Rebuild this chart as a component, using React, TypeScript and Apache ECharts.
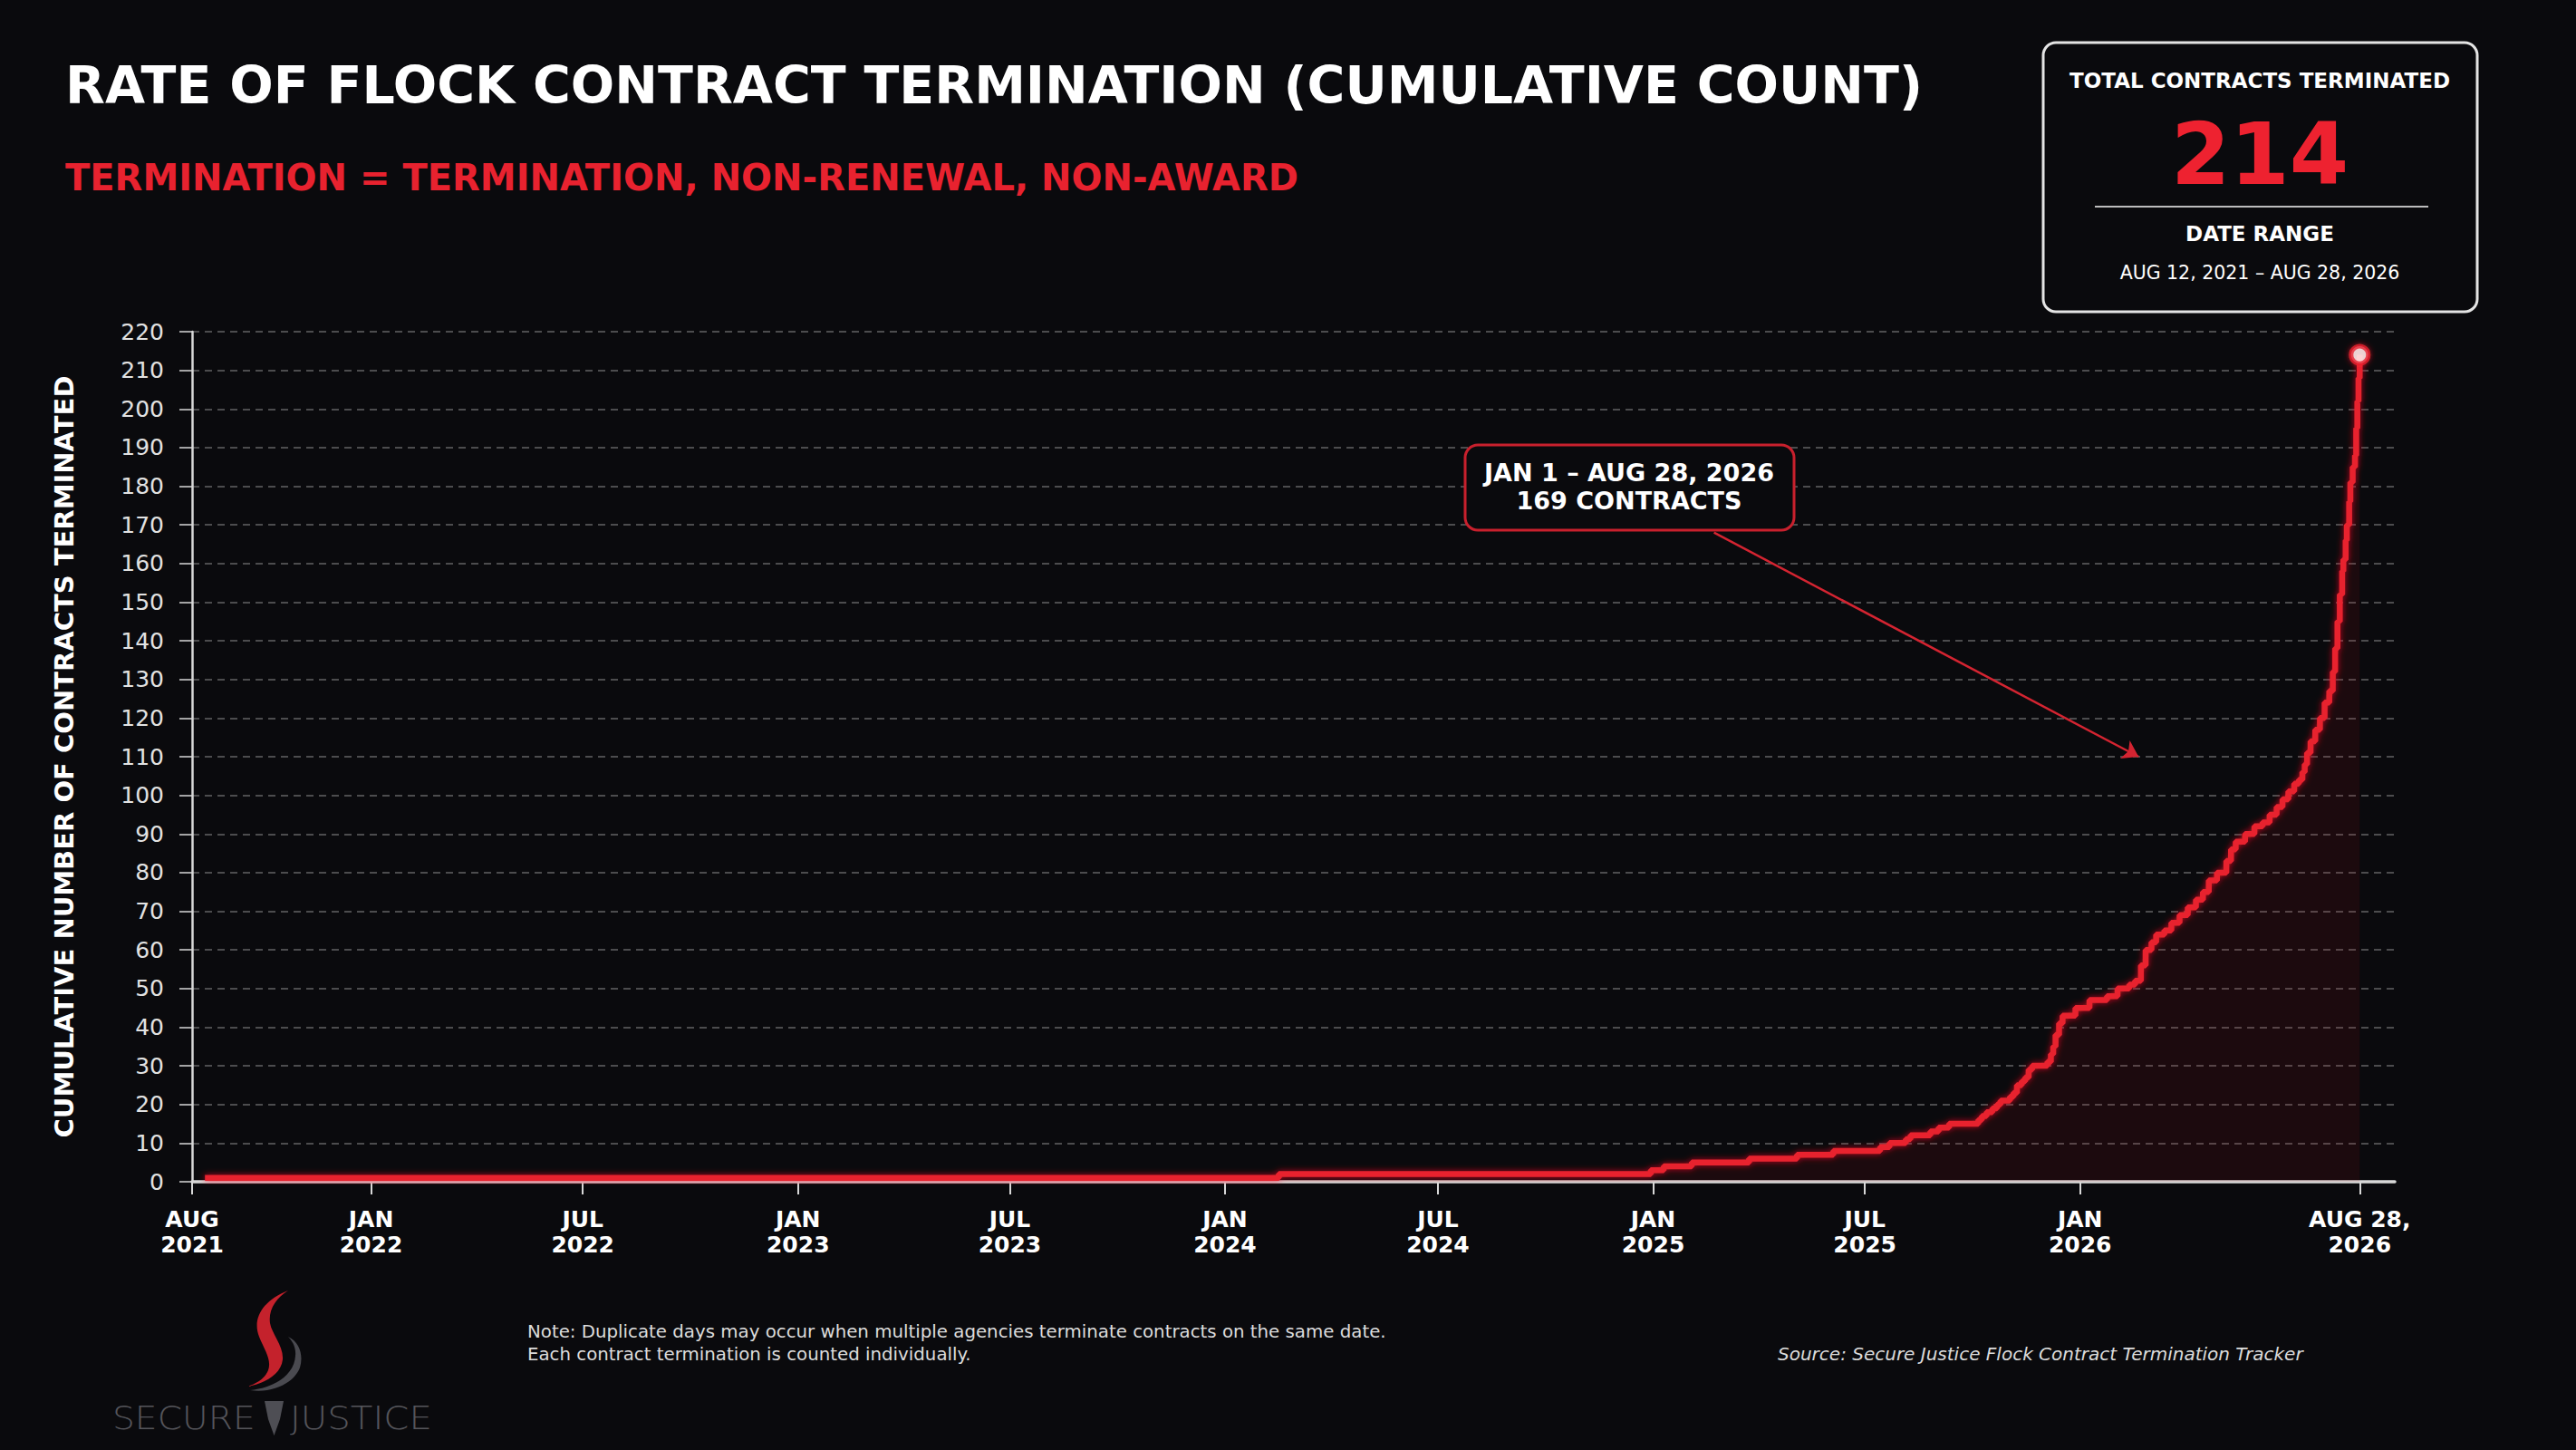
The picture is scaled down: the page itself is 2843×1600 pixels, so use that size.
import React, { useEffect, useRef } from "react";
import * as echarts from "echarts";

// ---- data ----
const dates = [
  "2021-08-12", "2024-02-16", "2024-12-30", "2025-01-10", "2025-02-03", "2025-03-24",
  "2025-05-04", "2025-06-04", "2025-07-14", "2025-07-22", "2025-08-05", "2025-08-09",
  "2025-08-26", "2025-09-02", "2025-09-11", "2025-10-06", "2025-10-09", "2025-10-13",
  "2025-10-18", "2025-10-22", "2025-10-25", "2025-11-02", "2025-11-05", "2025-11-08",
  "2025-11-12", "2025-11-15", "2025-11-18", "2025-11-21", "2025-12-04", "2025-12-07",
  "2025-12-09", "2025-12-11", "2025-12-14", "2025-12-17", "2025-12-28", "2026-01-09",
  "2026-01-24", "2026-02-02", "2026-02-12", "2026-02-17", "2026-02-22", "2026-02-26",
  "2026-03-03", "2026-03-07", "2026-03-14", "2026-03-20", "2026-03-27", "2026-04-03",
  "2026-04-10", "2026-04-16", "2026-04-21", "2026-04-28", "2026-05-06", "2026-05-10",
  "2026-05-14", "2026-05-22", "2026-05-30", "2026-06-06", "2026-06-12", "2026-06-18",
  "2026-06-23", "2026-06-28", "2026-07-03", "2026-07-07", "2026-07-10", "2026-07-12",
  "2026-07-14", "2026-07-17", "2026-07-21", "2026-07-25", "2026-07-29", "2026-08-02",
  "2026-08-05", "2026-08-07", "2026-08-09", "2026-08-11", "2026-08-13", "2026-08-14",
  "2026-08-16", "2026-08-17", "2026-08-19", "2026-08-20", "2026-08-22", "2026-08-24",
  "2026-08-25", "2026-08-26", "2026-08-27", "2026-08-28",
];
const counts = [
  1, 2, 3, 4, 5, 6,
  7, 8, 9, 10, 11, 12,
  13, 14, 15, 16, 17, 18,
  19, 20, 21, 22, 23, 25,
  26, 27, 29, 30, 31, 33,
  35, 38, 41, 43, 45, 47,
  48, 50, 51, 52, 56, 60,
  62, 64, 65, 67, 69, 71,
  73, 75, 78, 80, 83, 86,
  88, 90, 92, 93, 95, 97,
  99, 101, 103, 104, 106, 108,
  111, 114, 117, 120, 124, 127,
  132, 138, 145, 152, 158, 161,
  166, 170, 176, 181, 185, 188,
  195, 202, 208, 214,
];

const xTickDates = [
  "2021-08-01", "2022-01-01", "2022-07-01", "2023-01-01", "2023-07-01", "2024-01-01",
  "2024-07-01", "2025-01-01", "2025-07-01", "2026-01-01", "2026-08-28",
];
const xTickLabels = [
  "AUG\n2021", "JAN\n2022", "JUL\n2022", "JAN\n2023", "JUL\n2023", "JAN\n2024",
  "JUL\n2024", "JAN\n2025", "JUL\n2025", "JAN\n2026", "AUG 28,\n2026",
];
const xMinDate = "2021-08-01";
const xMaxDate = "2026-09-27";
const yMax = 220;
const yStep = 10;

const annotationLines = ["JAN 1 – AUG 28, 2026", "169 CONTRACTS"];
const arrowFrom: [string, number] = ["2025-02-22", 168];
const arrowTo: [string, number] = ["2026-02-20", 110];

const totalLabel = "TOTAL CONTRACTS TERMINATED";
const totalValue = "214";
const rangeLabel = "DATE RANGE";
const rangeValue = "AUG 12, 2021 – AUG 28, 2026";

const FONT = "DejaVu Sans";
const RED = "#e8222f";

const S_PATH =
  "M 318 1424 C 290 1435 278 1455 286 1475 C 292 1490 300 1500 296 1512 C 292 1522 282 1527 273 1530 " +
  "C 290 1527 310 1518 312 1500 C 313 1485 300 1472 298 1460 C 296 1445 305 1432 318 1424 Z";
const SWOOSH_PATH =
  "M 276 1534 C 305 1531 325 1516 326 1496 C 327 1486 322 1479 318 1475 C 331 1481 335 1496 331 1509 " +
  "C 325 1526 300 1538 276 1534 Z";

let registered = false;
function registerShapes() {
  if (registered) return;
  registered = true;
  echarts.graphic.registerShape("logoS", echarts.graphic.extendPath(S_PATH, {}) as any);
  echarts.graphic.registerShape("logoSwoosh", echarts.graphic.extendPath(SWOOSH_PATH, {}) as any);
}

const ts = (d: string) => Date.parse(d);

export default function App() {
  const ref = useRef<HTMLDivElement>(null);

  useEffect(() => {
    document.body.style.margin = "0";
    document.body.style.background = "#0a0a0d";
    registerShapes();
    const chart = echarts.init(ref.current!, undefined, { renderer: "svg" });

    const seriesData = dates.map((d, i) => [ts(d), counts[i]]);
    const last = seriesData[seriesData.length - 1];
    const tickValues = xTickDates.map(ts);
    const labelMap: Record<number, string> = {};
    tickValues.forEach((v, i) => (labelMap[v] = xTickLabels[i]));

    const option: any = {
      animation: false,
      backgroundColor: "#0a0a0d",
      textStyle: { fontFamily: FONT },
      grid: { left: 212, top: 366, width: 2431, height: 938, containLabel: false },
      xAxis: {
        type: "value",
        min: ts(xMinDate),
        max: ts(xMaxDate),
        splitLine: { show: false },
        axisLine: { show: true, lineStyle: { color: "#d8d8d8", width: 3.5 } },
        axisTick: {
          show: true,
          customValues: tickValues,
          length: 14,
          lineStyle: { color: "#d8d8d8", width: 2 },
        },
        axisLabel: {
          customValues: tickValues,
          formatter: (v: number) => labelMap[v] ?? "",
          color: "#ffffff",
          fontFamily: FONT,
          fontWeight: "bold",
          fontSize: 25,
          lineHeight: 28,
          margin: 27,
          align: "center",
        },
      },
      yAxis: {
        type: "value",
        min: 0,
        max: yMax,
        interval: yStep,
        name: "CUMULATIVE NUMBER OF CONTRACTS TERMINATED",
        nameLocation: "middle",
        nameGap: 127,
        nameTextStyle: { color: "#ffffff", fontFamily: FONT, fontWeight: "bold", fontSize: 29 },
        axisLine: { show: true, lineStyle: { color: "#d8d8d8", width: 2.5 } },
        axisTick: { show: true, length: 14, lineStyle: { color: "#d8d8d8", width: 1.5 } },
        axisLabel: { color: "#e2e2e2", fontFamily: FONT, fontSize: 25, margin: 31 },
        splitLine: {
          show: true,
          lineStyle: { color: "rgba(255,255,255,0.36)", width: 1.5, type: [8, 6] },
        },
      },
      series: [
        {
          type: "line",
          step: "end",
          data: seriesData,
          showSymbol: false,
          z: 3,
          lineStyle: {
            color: RED,
            width: 6.5,
            shadowColor: "rgba(255,20,35,0.7)",
            shadowBlur: 7,
          },
          areaStyle: { color: "rgba(190,20,32,0.15)" },
          markLine: {
            silent: true,
            symbol: ["none", "arrow"],
            symbolSize: 17,
            label: { show: false },
            lineStyle: { color: "#d42431", width: 2.5, type: "solid" },
            data: [
              [
                { coord: [ts(arrowFrom[0]), arrowFrom[1]] },
                { coord: [ts(arrowTo[0]), arrowTo[1]] },
              ],
            ],
          },
        },
        {
          type: "scatter",
          data: [last],
          symbolSize: 19,
          z: 5,
          itemStyle: {
            color: "#fff2f2",
            borderColor: "#e8222f",
            borderWidth: 5,
            shadowColor: "rgba(255,30,40,0.7)",
            shadowBlur: 6,
          },
        },
      ],
      graphic: [
        {
          type: "text",
          x: 72,
          y: 94,
          style: {
            text: "RATE OF FLOCK CONTRACT TERMINATION (CUMULATIVE COUNT)",
            fill: "#ffffff",
            font: `bold 57px '${FONT}'`,
            textVerticalAlign: "middle",
          },
        },
        {
          type: "text",
          x: 72,
          y: 196,
          style: {
            text: "TERMINATION = TERMINATION, NON-RENEWAL, NON-AWARD",
            fill: "#e8222f",
            font: `bold 40px '${FONT}'`,
            textVerticalAlign: "middle",
          },
        },
        // stats box
        {
          type: "rect",
          shape: { x: 2255, y: 47, width: 479, height: 297, r: 14 },
          style: { fill: "#0a0a0d", stroke: "#e4e4e4", lineWidth: 3 },
        },
        {
          type: "text",
          x: 2494,
          y: 89,
          style: {
            text: totalLabel,
            fill: "#ffffff",
            font: `bold 23px '${FONT}'`,
            textAlign: "center",
            textVerticalAlign: "middle",
          },
        },
        {
          type: "text",
          x: 2494,
          y: 170,
          style: {
            text: totalValue,
            fill: "#ee2230",
            font: `bold 94px '${FONT}'`,
            textAlign: "center",
            textVerticalAlign: "middle",
          },
        },
        {
          type: "line",
          shape: { x1: 2312, y1: 228, x2: 2680, y2: 228 },
          style: { stroke: "#bdbdbd", lineWidth: 2 },
        },
        {
          type: "text",
          x: 2494,
          y: 258,
          style: {
            text: rangeLabel,
            fill: "#ffffff",
            font: `bold 23px '${FONT}'`,
            textAlign: "center",
            textVerticalAlign: "middle",
          },
        },
        {
          type: "text",
          x: 2494,
          y: 301,
          style: {
            text: rangeValue,
            fill: "#ffffff",
            font: `20.5px '${FONT}'`,
            textAlign: "center",
            textVerticalAlign: "middle",
          },
        },
        // annotation box
        {
          type: "rect",
          z: 10,
          shape: { x: 1617, y: 491, width: 363, height: 94, r: 14 },
          style: { fill: "#0a0a0d", stroke: "#c8202d", lineWidth: 3 },
        },
        {
          type: "text",
          z: 11,
          x: 1798,
          y: 521,
          style: {
            text: annotationLines[0],
            fill: "#ffffff",
            font: `bold 27px '${FONT}'`,
            textAlign: "center",
            textVerticalAlign: "middle",
          },
        },
        {
          type: "text",
          z: 11,
          x: 1798,
          y: 552,
          style: {
            text: annotationLines[1],
            fill: "#ffffff",
            font: `bold 27px '${FONT}'`,
            textAlign: "center",
            textVerticalAlign: "middle",
          },
        },
        // footer notes
        {
          type: "text",
          x: 582,
          y: 1469,
          style: {
            text: "Note: Duplicate days may occur when multiple agencies terminate contracts on the same date.",
            fill: "#dcdcdc",
            font: `19.8px '${FONT}'`,
            textVerticalAlign: "middle",
          },
        },
        {
          type: "text",
          x: 582,
          y: 1494,
          style: {
            text: "Each contract termination is counted individually.",
            fill: "#dcdcdc",
            font: `19.8px '${FONT}'`,
            textVerticalAlign: "middle",
          },
        },
        {
          type: "text",
          x: 1962,
          y: 1494,
          style: {
            text: "Source: Secure Justice Flock Contract Termination Tracker",
            fill: "#dcdcdc",
            font: `italic 20px '${FONT}'`,
            textVerticalAlign: "middle",
          },
        },
        // logo
        { type: "logoSwoosh", x: 0, y: 0, style: { fill: "#4a4a50" } },
        { type: "logoS", x: 0, y: 0, style: { fill: "#c4222c" } },
        {
          type: "polygon",
          shape: { points: [[292, 1546], [313, 1546], [309, 1566], [302.5, 1584], [296, 1566]] },
          style: { fill: "#4e4e54" },
        },
        {
          type: "text",
          x: 124,
          y: 1565,
          scaleX: 1.12,
          style: {
            text: "SECURE",
            fill: "#55555b",
            font: `300 35px '${FONT}'`,
            textVerticalAlign: "middle",
          },
        },
        {
          type: "text",
          x: 320,
          y: 1565,
          scaleX: 1.15,
          style: {
            text: "JUSTICE",
            fill: "#55555b",
            font: `300 35px '${FONT}'`,
            textVerticalAlign: "middle",
          },
        },
      ],
    };

    chart.setOption(option);
    return () => chart.dispose();
  }, []);

  return (
    <div
      ref={ref}
      style={{ position: "fixed", left: 0, top: 0, width: 2843, height: 1600, background: "#0a0a0d" }}
    />
  );
}
